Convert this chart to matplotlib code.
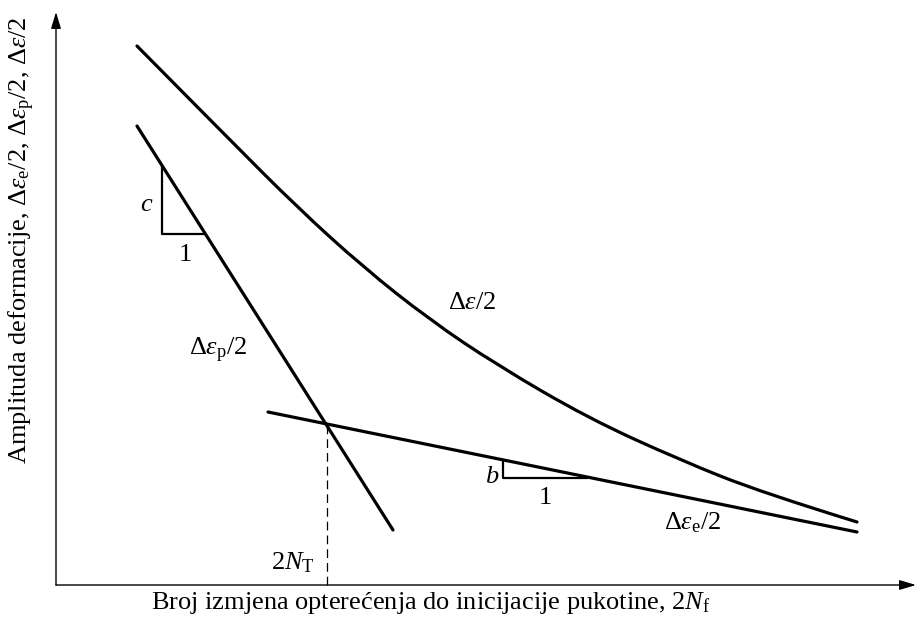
import matplotlib
matplotlib.use("Agg")
import matplotlib.pyplot as plt
from matplotlib.path import Path
from matplotlib.patches import PathPatch

plt.rcParams["font.family"] = ["Liberation Serif", "DejaVu Serif"]
plt.rcParams["mathtext.fontset"] = "custom"
plt.rcParams["mathtext.rm"] = "Liberation Serif"
plt.rcParams["mathtext.it"] = "Liberation Serif:italic"

# schematic values (units ~ pixels from the axes origin, log-log sense)
plastic_x = [81, 337]
plastic_y = [459, 55]
elastic_x = [212, 801]
elastic_y = [173, 53]
total_x = [81, 174, 241, 307, 374, 441, 532, 624, 707, 801]
total_y = [539, 445, 378, 318, 265, 220, 167, 125, 92, 63]
transition = (271, 161)

tri_c_x = [106, 106, 149]
tri_c_y = [419, 351, 351]
tri_b_x = [447, 447, 531]
tri_b_y = [125, 107, 107]

fs = 19
lw = 2.3

fig = plt.figure(figsize=(9.16, 6.25), dpi=100)
ax = fig.add_axes([0, 0, 1, 1])
ax.set_xlim(-56, 860)
ax.set_ylim(-40, 585)
ax.axis("off")

# axes with arrows
arr = dict(arrowstyle="-|>,head_length=1.0,head_width=0.3", color="black",
           lw=1.0, shrinkA=0, shrinkB=0)
ax.annotate("", xy=(0, 573), xytext=(0, 0), arrowprops=arr)
ax.annotate("", xy=(860, 0), xytext=(0, 0), arrowprops=arr)

ax.plot(plastic_x, plastic_y, color="black", lw=lw, solid_capstyle="round")
ax.plot(elastic_x, elastic_y, color="black", lw=lw, solid_capstyle="round")

# smooth total curve: quadratic b-spline through the read points
pts = list(zip(total_x, total_y))
verts = [pts[0]]
codes = [Path.MOVETO]
for i in range(1, len(pts) - 1):
    if i < len(pts) - 2:
        end = ((pts[i][0] + pts[i + 1][0]) / 2, (pts[i][1] + pts[i + 1][1]) / 2)
    else:
        end = pts[i + 1]
    verts += [pts[i], end]
    codes += [Path.CURVE3, Path.CURVE3]
ax.add_patch(PathPatch(Path(verts, codes), fill=False, lw=lw, capstyle="round"))

ax.plot([transition[0], transition[0]], [0, transition[1]], color="black",
        lw=0.9, dashes=(7, 4))

ax.plot(tri_c_x, tri_c_y, color="black", lw=1.6)
ax.plot(tri_b_x, tri_b_y, color="black", lw=1.6)

ax.text(91, 380, "$c$", fontsize=fs, ha="center", va="center")
ax.text(129, 330, "1", fontsize=fs, ha="center", va="center")
ax.text(436, 108, "$b$", fontsize=fs, ha="center", va="center")
ax.text(489, 87, "1", fontsize=fs, ha="center", va="center")

ax.text(416, 282, r"$\Delta\varepsilon/2$", fontsize=fs, ha="center", va="center")
ax.text(162, 235, r"$\Delta\varepsilon_{\rm p}/2$", fontsize=fs, ha="center", va="center")
ax.text(637, 62, r"$\Delta\varepsilon_{\rm e}/2$", fontsize=fs, ha="center", va="center")
ax.text(237, 22, r"$2N_{\rm T}$", fontsize=fs, ha="center", va="center")

ax.text(375, -18, r"Broj izmjena opterećenja do inicijacije pukotine, $2N_{\rm f}$",
        fontsize=fs, ha="center", va="center")
ax.text(-34, 345,
        r"Amplituda deformacije, $\Delta\varepsilon_{\rm e}/2$, "
        r"$\Delta\varepsilon_{\rm p}/2$, $\Delta\varepsilon/2$",
        fontsize=fs, ha="center", va="center", rotation=90)

fig.savefig("out.png", dpi=100)
